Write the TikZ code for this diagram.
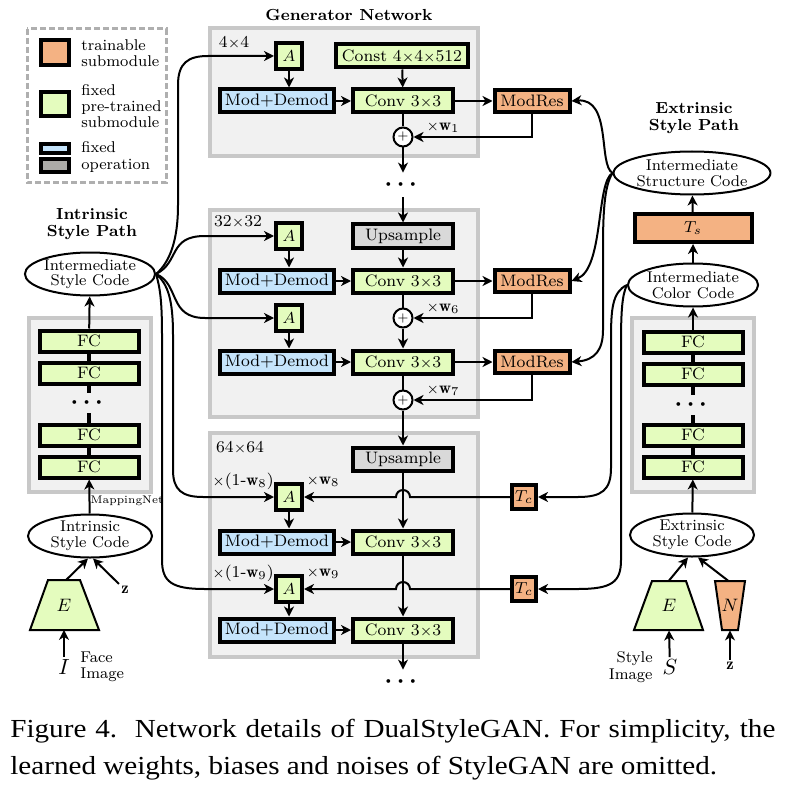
\documentclass[tikz,border=0pt]{standalone}
\usepackage{amsmath,amsfonts}
\usepackage{fontspec}
\usepackage{xcolor}
\usepackage{tikz}
\usetikzlibrary{shapes.geometric, arrows.meta, positioning, calc}
\newfontfamily\capfont[FakeStretch=1.12]{Liberation Serif}
\definecolor{trainC}{RGB}{244,178,131}
\definecolor{fixC}{RGB}{228,252,190}
\definecolor{opC}{RGB}{197,228,251}
\definecolor{upC}{RGB}{217,217,217}
\definecolor{legGray}{RGB}{172,171,167}
\definecolor{panelC}{RGB}{241,241,241}
\definecolor{panelL}{RGB}{200,200,200}
\definecolor{legL}{RGB}{175,175,175}
\newcommand{\boxfnt}{\fontsize{8.3}{9}\selectfont}
\newcommand{\codefnt}{\fontsize{7.8}{7.8}\selectfont}
\newcommand{\legfnt}{\fontsize{7.8}{8.2}\selectfont}
\newcommand{\ttlfnt}{\fontsize{8}{8.6}\selectfont\bfseries}
\newcommand{\tx}{{\scriptsize$\times$}}
\newcommand{\vdotsrow}{{\fontsize{12}{12}\selectfont$\boldsymbol{\cdots}$}}

\begin{document}
\begin{tikzpicture}[x=0.5pt, y=-0.5pt,
        blk/.style={rectangle, draw=black, line width=2pt, inner sep=0pt, minimum height=11.5pt, font=\boxfnt},
        trainblk/.style={blk, fill=trainC},
        fixblk/.style={blk, fill=fixC},
        opblk/.style={blk, fill=opC},
        upblk/.style={blk, fill=upC},
        ablk/.style={fixblk, minimum width=13pt, minimum height=13pt},
        fcblk/.style={fixblk, minimum width=49.5pt, minimum height=10.5pt},
        codeell/.style={ellipse, draw=black, line width=1pt, fill=white, minimum width=62pt, minimum height=21.5pt, inner sep=0pt, align=center, font=\codefnt},
        addop/.style={circle, draw=black, line width=1pt, fill=white, minimum size=9.5pt, inner sep=0pt, font=\fontsize{6}{6}\selectfont},
        encshape/.style={draw=black, line width=1pt},
        encnode/.style={inner sep=0pt, minimum width=8pt, minimum height=24.5pt, font=\fontsize{9.5}{10}\selectfont},
        imgsym/.style={inner sep=1pt, font=\fontsize{11}{11}\selectfont},
        panel/.style={draw=panelL, fill=panelC, line width=2pt},
        conn/.style={-{Stealth[length=5pt, width=5pt, inset=1.5pt]}, line width=1pt},
        wire/.style={line width=1pt},
        wlabel/.style={font=\boxfnt, inner sep=0pt},
        dotsnode/.style={inner sep=0pt, minimum height=12pt}
    ]
    \useasboundingbox (0,0) rectangle (784,786);

    % Legend
    \draw[legL, line width=1.5pt, dash pattern=on 3pt off 1.5pt] (27,29) rectangle (166,183);
    \node[trainblk, minimum width=14pt, minimum height=12.5pt] (lgtrain) at (55,53) {};
    \node[fixblk, minimum width=14pt, minimum height=12pt] (lgfix) at (55,104) {};
    \node[opblk, minimum width=14pt, minimum height=4.5pt] (lgop) at (55,148.5) {};
    \node[blk, fill=legGray, minimum width=14pt, minimum height=6.5pt] (lgup) at (55,165.5) {};
    \node[anchor=west, align=left, font=\legfnt, inner sep=0pt] (lgtraintxt) at (81,53) {trainable\\submodule};
    \node[anchor=west, align=left, font=\legfnt, inner sep=0pt] (lgfixtxt) at (81,106) {fixed\\pre-trained\\submodule};
    \node[anchor=west, align=left, font=\legfnt, inner sep=0pt] (lgoptxt) at (81,157) {fixed\\operation};

    % Titles
    \node[font=\ttlfnt] (gentitle) at (349,15) {Generator Network};
    \node[font=\ttlfnt, align=center] (intitle) at (92,224) {Intrinsic\\Style Path};
    \node[font=\ttlfnt, align=center] (extitle) at (694,118) {Extrinsic\\Style Path};

    % Generator panels
    \draw[panel] (210,28) rectangle (478,156);
    \draw[panel] (210,210) rectangle (478,417);
    \draw[panel] (210,433) rectangle (478,657);
    \node[font=\boxfnt] (res1) at (234,43) {4\tx4};
    \node[font=\boxfnt] (res2) at (238,222) {32\tx32};
    \node[font=\boxfnt] (res3) at (240,448) {64\tx64};

    % 4x4 block
    \node[ablk] (a1) at (289,56) {$A$};
    \node[fixblk, minimum width=66pt] (const) at (402,56) {Const 4\tx4\tx512};
    \node[opblk, minimum width=57pt] (md1) at (277,101) {Mod+Demod};
    \node[fixblk, minimum width=50pt] (conv1) at (403,101) {Conv 3\tx3};
    \node[trainblk, minimum width=37.5pt, minimum height=11pt] (mr1) at (532,101) {ModRes};
    \node[addop] (plus1) at (403,137) {$+$};
    \node[wlabel] (w1) at (443,127) {\tx$\mathbf{w}_1$};
    \node[dotsnode] (dots1) at (403,185) {\vdotsrow};

    % 32x32 block
    \node[upblk, minimum width=50pt] (up2) at (403,236) {Upsample};
    \node[ablk] (a2) at (289,236) {$A$};
    \node[opblk, minimum width=57pt] (md2) at (277,281) {Mod+Demod};
    \node[fixblk, minimum width=50pt] (conv2) at (403,281) {Conv 3\tx3};
    \node[trainblk, minimum width=37.5pt, minimum height=11pt] (mr2) at (532,281) {ModRes};
    \node[addop] (plus2) at (403,318) {$+$};
    \node[wlabel] (w6) at (443,308) {\tx$\mathbf{w}_6$};
    \node[ablk] (a3) at (289,318) {$A$};
    \node[opblk, minimum width=57pt] (md3) at (277,362) {Mod+Demod};
    \node[fixblk, minimum width=50pt] (conv3) at (403,362) {Conv 3\tx3};
    \node[trainblk, minimum width=37.5pt, minimum height=11pt] (mr3) at (532,362) {ModRes};
    \node[addop] (plus3) at (403,400) {$+$};
    \node[wlabel] (w7) at (443,390) {\tx$\mathbf{w}_7$};

    % 64x64 block
    \node[upblk, minimum width=50pt] (up3) at (403,459) {Upsample};
    \node[ablk] (a4) at (289,497) {$A$};
    \node[wlabel] (w8a) at (243,481) {\tx(1-$\mathbf{w}_8$)};
    \node[wlabel] (w8b) at (323,481) {\tx$\mathbf{w}_8$};
    \node[opblk, minimum width=57pt] (md4) at (277,542) {Mod+Demod};
    \node[fixblk, minimum width=50pt] (conv4) at (403,542) {Conv 3\tx3};
    \node[ablk] (a5) at (289,589) {$A$};
    \node[wlabel] (w9a) at (243,573) {\tx(1-$\mathbf{w}_9$)};
    \node[wlabel] (w9b) at (323,573) {\tx$\mathbf{w}_9$};
    \node[opblk, minimum width=57pt] (md5) at (277,630) {Mod+Demod};
    \node[fixblk, minimum width=50pt] (conv5) at (403,630) {Conv 3\tx3};
    \node[dotsnode] (dots2) at (403,682) {\vdotsrow};
    \node[trainblk, minimum width=12pt, minimum height=12pt] (tc1) at (524,497) {$T_c$};
    \node[trainblk, minimum width=12pt, minimum height=12pt] (tc2) at (524,589) {$T_c$};

    % Generator flow
    \draw[conn] (a1.south) -- (a1.south |- md1.north);
    \draw[conn] (const) -- (conv1);
    \draw[conn] (md1) -- (conv1);
    \draw[conn] (conv1) -- (mr1);
    \draw[wire] (conv1) -- (plus1);
    \draw[conn] (mr1.south) |- (plus1.east);
    \draw[conn] (plus1) -- (dots1.north);
    \draw[conn] (dots1.south) -- (up2);
    \draw[conn] (up2) -- (conv2);
    \draw[conn] (a2.south) -- (a2.south |- md2.north);
    \draw[conn] (md2) -- (conv2);
    \draw[conn] (conv2) -- (mr2);
    \draw[wire] (conv2) -- (plus2);
    \draw[conn] (mr2.south) |- (plus2.east);
    \draw[conn] (plus2) -- (conv3);
    \draw[conn] (a3.south) -- (a3.south |- md3.north);
    \draw[conn] (md3) -- (conv3);
    \draw[conn] (conv3) -- (mr3);
    \draw[wire] (conv3) -- (plus3);
    \draw[conn] (mr3.south) |- (plus3.east);
    \draw[conn] (plus3) -- (up3);
    \draw[conn] (up3) -- (conv4);
    \draw[conn] (a4.south) -- (a4.south |- md4.north);
    \draw[conn] (md4) -- (conv4);
    \draw[conn] (conv4) -- (conv5);
    \draw[conn] (a5.south) -- (a5.south |- md5.north);
    \draw[conn] (md5) -- (conv5);
    \draw[conn] (conv5) -- (dots2.north);
    \coordinate (hop1) at (conv4.north |- tc1.west);
    \coordinate (hop2) at (conv5.north |- tc2.west);
    \draw[conn] (tc1.west) -- ([xshift=3.5pt]hop1) arc[start angle=0, end angle=180, radius=3.5pt] -- (a4.east);
    \draw[conn] (tc2.west) -- ([xshift=3.5pt]hop2) arc[start angle=0, end angle=180, radius=3.5pt] -- (a5.east);

    % Intrinsic style path
    \draw[panel] (29,318) rectangle (151,492);
    \node[codeell] (isc) at (90,274) {Intermediate\\Style Code};
    \draw[line width=2pt] (89,341) -- (89,467);
    \node[fcblk] (ifc1) at (89,341) {FC};
    \node[fcblk] (ifc2) at (89,373) {FC};
    \node[dotsnode, fill=panelC, minimum width=14pt, minimum height=10pt] (idots) at (89,403) {\vdotsrow};
    \node[fcblk] (ifc3) at (89,435) {FC};
    \node[fcblk] (ifc4) at (89,467) {FC};
    \node[font=\fontsize{5.5}{6}\selectfont, inner sep=0pt] (mapnet) at (127,501) {MappingNet};
    \node[codeell] (intr) at (90,536) {Intrinsic\\Style Code};
    \draw[encshape, fill=fixC] (30,630) -- (48,580) -- (80,580) -- (99,630) -- cycle;
    \node[encnode] (enc1) at (64,605) {$E$};
    \node[font=\boxfnt, inner sep=1pt] (z1) at (125,590) {$\mathbf{z}$};
    \node[imgsym] (imgI) at (64,667) {$I$};
    \node[anchor=west, align=left, font=\legfnt, inner sep=0pt] (faceimg) at (80,667) {Face\\Image};
    \draw[conn] (ifc1) -- (isc);
    \draw[conn] (intr) -- (ifc4);
    \draw[conn] ([xshift=1pt]enc1.north) -- ([xshift=-1pt]intr.south);
    \draw[conn] (z1.north west) -- ([xshift=1.5pt]intr.south);
    \draw[conn] (imgI) -- (enc1.south);

    % Intrinsic codes into A
    \draw[conn] (isc.east) .. controls (170,262) and (178,240) .. (178,205) -- (178,85)
        .. controls (178,63) and (188,56) .. (208,56) -- (a1.west);
    \draw[conn] (isc.east) .. controls (180,262) and (168,236) .. (205,236) -- (a2.west);
    \draw[conn] (isc.east) .. controls (180,284) and (168,318) .. (205,318) -- (a3.west);
    \draw[conn] (isc.east) .. controls (168,284) and (173,300) .. (173,335) -- (173,470)
        .. controls (173,490) and (182,497) .. (203,497) -- (a4.west);
    \draw[conn] (isc.east) .. controls (160,288) and (162,300) .. (162,335) -- (162,560)
        .. controls (162,582) and (172,589) .. (205,589) -- (a5.west);

    % Extrinsic style path
    \draw[panel] (632,318) rectangle (754,492);
    \node[codeell] (stc) at (692,173) {Intermediate\\Structure Code};
    \node[trainblk, minimum width=58.5pt, minimum height=14pt] (tsblk) at (693,228) {$T_s$};
    \node[codeell] (clc) at (693,285) {Intermediate\\Color Code};
    \draw[line width=2pt] (693,342) -- (693,467);
    \node[fcblk] (efc1) at (693,342) {FC};
    \node[fcblk] (efc2) at (693,374) {FC};
    \node[dotsnode, fill=panelC, minimum width=14pt, minimum height=10pt] (edots) at (693,405) {\vdotsrow};
    \node[fcblk] (efc3) at (693,435) {FC};
    \node[fcblk] (efc4) at (693,467) {FC};
    \node[codeell] (esc) at (692,535) {Extrinsic\\Style Code};
    \draw[encshape, fill=fixC] (634,630) -- (652,581) -- (686,581) -- (703,630) -- cycle;
    \node[encnode] (enc2) at (669,605.5) {$E$};
    \draw[encshape, fill=trainC] (715,581) -- (745,581) -- (738,630) -- (722,630) -- cycle;
    \node[encnode] (nenc) at (730,605.5) {$N$};
    \node[imgsym] (imgS) at (670,667) {$S$};
    \node[font=\boxfnt, inner sep=1pt] (z2) at (730,666) {$\mathbf{z}$};
    \node[anchor=east, align=right, font=\legfnt, inner sep=0pt] (styimg) at (653,667) {Style\\Image};
    \draw[conn] (efc1) -- (clc);
    \draw[conn] (clc) -- (tsblk);
    \draw[conn] (tsblk) -- (stc);
    \draw[conn] (esc) -- (efc4);
    \draw[conn] (enc2.north) -- ([xshift=-2pt]esc.south);
    \draw[conn] ([xshift=-1pt]nenc.north) -- ([xshift=3pt]esc.south);
    \draw[conn] (imgS) -- (enc2.south);
    \draw[conn] (z2) -- (nenc.south);

    % Extrinsic codes into ModRes and T_c
    \draw[conn] (stc.west) .. controls (598,165) and (612,98) .. (mr1.east);
    \draw[conn] (stc.west) .. controls (596,182) and (604,268) .. (mr2.east);
    \draw[conn] (stc.west) .. controls (604,186) and (603,215) .. (603,250) -- (603,330)
        .. controls (603,350) and (595,360) .. (mr3.east);
    \draw[conn] (clc.west) .. controls (612,292) and (611,310) .. (611,340) -- (611,468)
        .. controls (611,490) and (602,497) .. (578,497) -- (tc1.east);
    \draw[conn] (clc.west) .. controls (622,295) and (621,312) .. (621,345) -- (621,560)
        .. controls (621,582) and (612,589) .. (578,589) -- (tc2.east);

    % Caption
    \node[anchor=north west, inner sep=0pt, text width=382.5pt, align=justify, font=\capfont\fontsize{13}{18.5}\selectfont] (cap) at (10,719)
        {Figure 4.\ \ Network details of DualStyleGAN. For simplicity, the\linebreak learned weights, biases and noises of StyleGAN are omitted.};
\end{tikzpicture}
\end{document}
